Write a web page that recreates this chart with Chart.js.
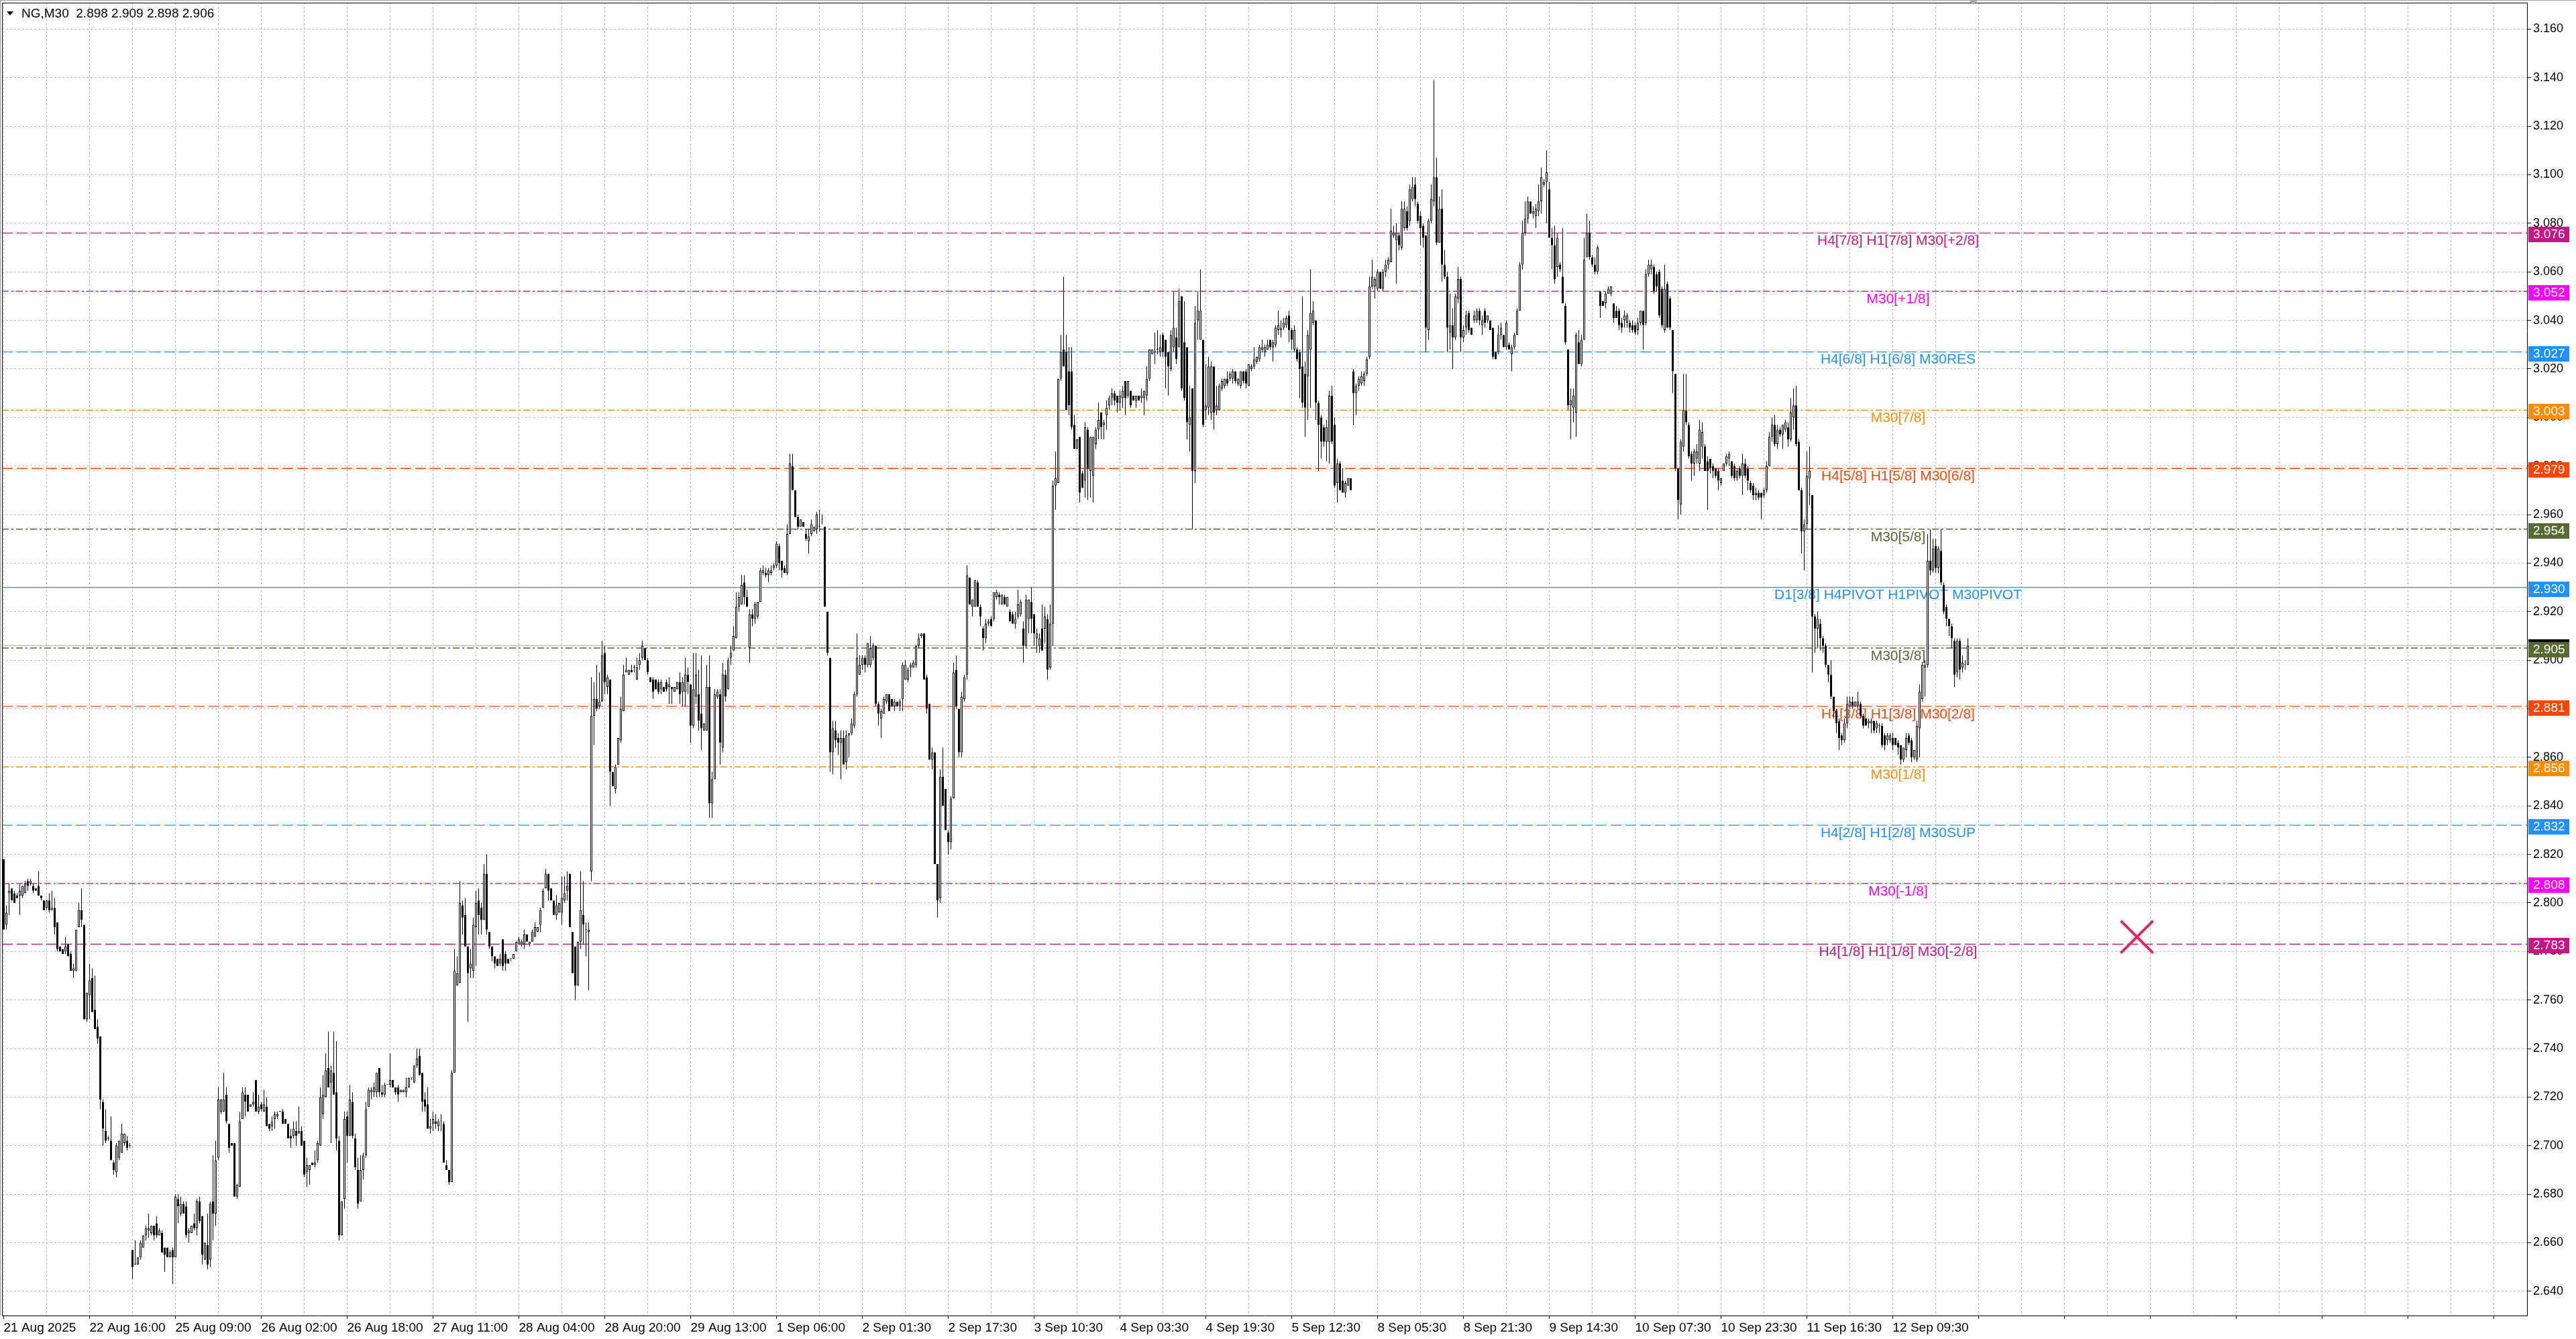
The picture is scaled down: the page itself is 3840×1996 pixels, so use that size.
<!DOCTYPE html>
<html>
<head>
<meta charset="utf-8">
<title>NG,M30</title>
<script src="https://cdn.jsdelivr.net/npm/chart.js@4.4.1/dist/chart.umd.min.js"></script>
<style>
  html, body { margin: 0; padding: 0; background: #fff; overflow: hidden; }
</style>
</head>
<body>
<canvas id="chart" width="3840" height="1996"></canvas>
<script>
(function () {
    'use strict';

    // NG M30 bars, 21 Aug 2025 -> 12 Sep 2025, each row [open, high, low, close]
    var ohlc = [
        [2.818,2.818,2.789,2.789],[2.791,2.799,2.789,2.796],[2.804,2.808,2.795,2.805],[2.806,2.806,2.801,2.801],[2.804,2.805,2.800,2.800],[2.803,2.804,2.802,2.802],
        [2.803,2.808,2.795,2.805],[2.803,2.807,2.802,2.807],[2.804,2.809,2.804,2.808],[2.809,2.810,2.805,2.807],[2.808,2.810,2.807,2.809],[2.807,2.808,2.804,2.805],
        [2.806,2.806,2.805,2.805],[2.807,2.813,2.803,2.803],[2.803,2.803,2.801,2.802],[2.801,2.801,2.797,2.797],[2.798,2.801,2.797,2.801],[2.801,2.804,2.796,2.797],
        [2.797,2.805,2.797,2.798],[2.798,2.802,2.787,2.790],[2.792,2.792,2.780,2.781],[2.782,2.782,2.780,2.780],[2.781,2.781,2.779,2.779],[2.780,2.786,2.779,2.782],
        [2.783,2.783,2.778,2.778],[2.779,2.780,2.772,2.772],[2.772,2.775,2.769,2.773],[2.772,2.789,2.772,2.789],[2.790,2.800,2.790,2.797],[2.797,2.806,2.790,2.793],
        [2.791,2.791,2.752,2.752],[2.752,2.763,2.751,2.763],[2.762,2.775,2.752,2.768],[2.769,2.773,2.755,2.755],[2.756,2.770,2.748,2.748],[2.749,2.752,2.742,2.744],
        [2.745,2.745,2.715,2.719],[2.718,2.719,2.700,2.707],[2.706,2.715,2.701,2.702],[2.703,2.704,2.702,2.703],[2.702,2.712,2.694,2.694],[2.693,2.694,2.688,2.690],
        [2.689,2.701,2.687,2.700],[2.695,2.702,2.694,2.702],[2.697,2.709,2.697,2.705],[2.701,2.705,2.700,2.705],[2.702,2.704,2.698,2.699],[2.700,2.701,2.699,2.700],
        [2.657,2.657,2.645,2.650],[2.651,2.661,2.651,2.651],[2.651,2.654,2.651,2.654],[2.654,2.661,2.653,2.660],[2.658,2.663,2.658,2.663],[2.663,2.667,2.661,2.666],
        [2.665,2.672,2.662,2.666],[2.664,2.667,2.663,2.667],[2.667,2.667,2.661,2.663],[2.668,2.671,2.662,2.663],[2.663,2.666,2.663,2.665],[2.664,2.665,2.656,2.656],
        [2.658,2.658,2.648,2.655],[2.658,2.658,2.654,2.654],[2.654,2.657,2.654,2.656],[2.657,2.658,2.643,2.654],[2.654,2.680,2.654,2.679],[2.678,2.680,2.668,2.675],
        [2.672,2.679,2.671,2.676],[2.676,2.677,2.672,2.672],[2.675,2.677,2.662,2.663],[2.664,2.666,2.660,2.665],[2.664,2.667,2.664,2.667],[2.668,2.672,2.665,2.666],
        [2.666,2.678,2.663,2.677],[2.677,2.679,2.668,2.669],[2.671,2.671,2.651,2.655],[2.653,2.660,2.653,2.660],[2.659,2.672,2.649,2.651],[2.653,2.677,2.650,2.676],
        [2.677,2.696,2.661,2.672],[2.672,2.702,2.667,2.694],[2.695,2.724,2.694,2.719],[2.714,2.719,2.713,2.719],[2.714,2.730,2.714,2.719],[2.721,2.724,2.709,2.710],
        [2.709,2.709,2.697,2.699],[2.701,2.701,2.700,2.700],[2.701,2.701,2.679,2.679],[2.679,2.684,2.678,2.684],[2.683,2.714,2.683,2.710],[2.711,2.724,2.711,2.722],
        [2.721,2.724,2.712,2.718],[2.721,2.721,2.714,2.714],[2.716,2.717,2.716,2.717],[2.717,2.722,2.716,2.718],[2.727,2.727,2.714,2.714],[2.714,2.721,2.713,2.716],
        [2.717,2.718,2.714,2.715],[2.714,2.723,2.714,2.717],[2.716,2.720,2.708,2.708],[2.709,2.709,2.706,2.707],[2.708,2.712,2.706,2.710],[2.711,2.714,2.707,2.713],
        [2.712,2.714,2.711,2.713],[2.714,2.714,2.714,2.714],[2.714,2.715,2.709,2.709],[2.711,2.711,2.709,2.709],[2.709,2.709,2.703,2.703],[2.704,2.707,2.699,2.703],
        [2.704,2.710,2.703,2.707],[2.706,2.710,2.700,2.704],[2.705,2.716,2.705,2.706],[2.706,2.708,2.700,2.700],[2.702,2.702,2.687,2.688],[2.689,2.695,2.683,2.692],
        [2.690,2.692,2.684,2.692],[2.693,2.693,2.692,2.692],[2.692,2.698,2.691,2.693],[2.694,2.702,2.693,2.701],[2.700,2.724,2.700,2.720],[2.713,2.729,2.711,2.721],
        [2.720,2.738,2.720,2.731],[2.732,2.747,2.724,2.724],[2.726,2.733,2.701,2.731],[2.730,2.747,2.721,2.721],[2.722,2.743,2.698,2.703],[2.702,2.704,2.661,2.663],
        [2.663,2.677,2.663,2.677],[2.678,2.714,2.674,2.711],[2.712,2.714,2.693,2.704],[2.704,2.725,2.704,2.719],[2.718,2.722,2.703,2.704],[2.703,2.705,2.690,2.691],
        [2.690,2.695,2.674,2.676],[2.677,2.696,2.677,2.690],[2.690,2.697,2.686,2.696],[2.696,2.718,2.695,2.715],[2.716,2.724,2.716,2.723],[2.722,2.724,2.719,2.723],
        [2.722,2.726,2.720,2.724],[2.722,2.730,2.720,2.730],[2.732,2.732,2.720,2.722],[2.722,2.725,2.720,2.721],[2.721,2.726,2.720,2.725],[2.725,2.725,2.725,2.725],
        [2.725,2.738,2.724,2.727],[2.727,2.727,2.724,2.724],[2.724,2.724,2.721,2.722],[2.724,2.725,2.718,2.721],[2.722,2.723,2.722,2.723],[2.722,2.723,2.722,2.723],
        [2.722,2.728,2.720,2.724],[2.724,2.728,2.724,2.728],[2.728,2.728,2.727,2.728],[2.726,2.733,2.726,2.733],[2.733,2.740,2.732,2.736],[2.737,2.740,2.729,2.729],
        [2.730,2.730,2.714,2.718],[2.719,2.722,2.714,2.716],[2.717,2.724,2.707,2.707],[2.707,2.711,2.705,2.708],[2.709,2.714,2.706,2.711],[2.710,2.713,2.707,2.709],
        [2.708,2.711,2.706,2.710],[2.710,2.713,2.706,2.710],[2.709,2.710,2.693,2.693],[2.692,2.694,2.690,2.690],[2.690,2.690,2.684,2.685],[2.685,2.731,2.685,2.730],
        [2.730,2.781,2.730,2.772],[2.766,2.778,2.766,2.771],[2.767,2.809,2.767,2.800],[2.799,2.801,2.787,2.794],[2.795,2.802,2.782,2.782],[2.782,2.782,2.751,2.771],
        [2.773,2.781,2.769,2.775],[2.772,2.794,2.769,2.791],[2.790,2.805,2.774,2.800],[2.801,2.806,2.787,2.795],[2.798,2.800,2.787,2.793],[2.793,2.816,2.793,2.812],
        [2.812,2.820,2.787,2.789],[2.788,2.788,2.781,2.782],[2.782,2.782,2.776,2.778],[2.778,2.778,2.773,2.775],
        [2.777,2.777,2.774,2.774],[2.775,2.779,2.774,2.777],[2.785,2.785,2.772,2.774],[2.779,2.780,2.772,2.775],[2.777,2.777,2.775,2.775],[2.777,2.777,2.776,2.777],
        [2.777,2.779,2.777,2.779],[2.780,2.784,2.780,2.784],[2.783,2.786,2.783,2.785],[2.783,2.785,2.782,2.784],[2.783,2.789,2.781,2.787],[2.787,2.787,2.784,2.784],
        [2.783,2.784,2.782,2.784],[2.784,2.789,2.784,2.788],[2.786,2.792,2.786,2.790],[2.788,2.790,2.788,2.790],[2.791,2.798,2.788,2.797],[2.798,2.806,2.798,2.805],
        [2.806,2.814,2.806,2.812],[2.812,2.812,2.801,2.805],[2.806,2.806,2.801,2.801],[2.801,2.801,2.795,2.795],[2.795,2.803,2.793,2.799],[2.796,2.800,2.796,2.800],
        [2.796,2.811,2.791,2.802],[2.801,2.811,2.800,2.804],[2.805,2.813,2.801,2.807],[2.812,2.812,2.790,2.790],[2.788,2.788,2.771,2.771],[2.782,2.782,2.760,2.766],
        [2.766,2.784,2.766,2.784],[2.784,2.813,2.781,2.797],[2.795,2.809,2.783,2.791],[2.789,2.792,2.778,2.789],[2.788,2.792,2.764,2.789],[2.813,2.893,2.809,2.877],
        [2.877,2.891,2.865,2.884],[2.884,2.898,2.879,2.880],[2.881,2.895,2.880,2.883],[2.883,2.908,2.883,2.902],[2.903,2.906,2.886,2.891],[2.889,2.894,2.886,2.893],
        [2.892,2.892,2.840,2.854],[2.854,2.854,2.848,2.848],[2.847,2.857,2.845,2.856],[2.857,2.868,2.857,2.868],[2.867,2.885,2.866,2.880],[2.879,2.898,2.879,2.894],
        [2.895,2.901,2.895,2.896],[2.894,2.896,2.894,2.896],[2.896,2.898,2.895,2.895],[2.897,2.898,2.895,2.897],[2.892,2.901,2.892,2.897],[2.898,2.903,2.896,2.900],
        [2.901,2.908,2.900,2.906],[2.905,2.905,2.900,2.900],[2.900,2.901,2.894,2.895],[2.893,2.893,2.891,2.891],[2.892,2.893,2.884,2.887],[2.892,2.892,2.888,2.888],
        [2.891,2.892,2.886,2.887],[2.888,2.892,2.886,2.891],[2.889,2.889,2.887,2.887],[2.891,2.892,2.887,2.888],[2.889,2.893,2.882,2.890],[2.889,2.889,2.882,2.888],
        [2.887,2.889,2.887,2.889],[2.888,2.891,2.888,2.891],[2.891,2.895,2.882,2.886],[2.887,2.893,2.881,2.891],[2.887,2.901,2.881,2.894],[2.894,2.897,2.886,2.891],
        [2.890,2.890,2.866,2.873],[2.873,2.903,2.872,2.888],[2.885,2.903,2.882,2.894],[2.886,2.896,2.871,2.875],[2.878,2.902,2.863,2.872],[2.871,2.874,2.871,2.874],
        [2.871,2.898,2.871,2.889],[2.889,2.902,2.835,2.841],[2.841,2.854,2.835,2.851],[2.851,2.888,2.851,2.886],[2.885,2.888,2.884,2.887],[2.886,2.888,2.857,2.866],
        [2.864,2.899,2.862,2.894],[2.894,2.896,2.883,2.885],[2.888,2.901,2.888,2.900],[2.901,2.906,2.898,2.903],[2.904,2.914,2.904,2.910],[2.909,2.928,2.909,2.922],
        [2.922,2.928,2.920,2.926],[2.923,2.935,2.923,2.931],[2.932,2.935,2.923,2.926],[2.926,2.929,2.922,2.922],[2.905,2.921,2.899,2.919],[2.919,2.921,2.914,2.917],
        [2.917,2.924,2.915,2.923],[2.918,2.924,2.917,2.924],[2.924,2.938,2.924,2.937],[2.936,2.939,2.935,2.937],[2.936,2.938,2.934,2.935],[2.935,2.938,2.932,2.937],
        [2.936,2.939,2.935,2.937],[2.938,2.940,2.937,2.939],[2.939,2.949,2.938,2.948],[2.947,2.948,2.937,2.940],[2.941,2.941,2.934,2.937],[2.938,2.939,2.936,2.936],
        [2.936,2.956,2.935,2.952],[2.952,2.985,2.952,2.981],[2.980,2.985,2.970,2.970],[2.970,2.970,2.959,2.959],[2.959,2.960,2.954,2.955],[2.955,2.958,2.955,2.958],
        [2.957,2.957,2.955,2.955],[2.952,2.954,2.949,2.950],[2.949,2.954,2.944,2.951],[2.952,2.958,2.951,2.956],[2.953,2.955,2.953,2.955],[2.954,2.961,2.952,2.960],
        [2.955,2.962,2.953,2.955],[2.958,2.960,2.956,2.958],[2.955,2.955,2.922,2.922],[2.920,2.920,2.902,2.903],[2.901,2.901,2.854,2.862],[2.862,2.875,2.853,2.872],
        [2.871,2.875,2.864,2.867],[2.868,2.870,2.861,2.866],[2.866,2.871,2.851,2.868],[2.868,2.871,2.857,2.857],[2.858,2.871,2.855,2.869],[2.869,2.870,2.860,2.870],
        [2.870,2.876,2.869,2.874],[2.873,2.887,2.872,2.886],[2.886,2.911,2.885,2.901],[2.894,2.902,2.894,2.898],[2.898,2.902,2.896,2.901],[2.901,2.902,2.895,2.898],
        [2.898,2.907,2.897,2.907],[2.898,2.910,2.897,2.905],[2.901,2.907,2.900,2.906],[2.906,2.906,2.881,2.882],[2.882,2.883,2.873,2.878],[2.876,2.880,2.868,2.879],
        [2.878,2.885,2.878,2.884],[2.883,2.886,2.882,2.886],[2.886,2.886,2.879,2.879],[2.884,2.884,2.881,2.881],[2.881,2.884,2.879,2.883],[2.883,2.883,2.881,2.881],
        [2.881,2.884,2.879,2.883],[2.884,2.899,2.879,2.898],[2.892,2.900,2.892,2.898],[2.892,2.897,2.891,2.896],[2.897,2.899,2.893,2.898],[2.897,2.900,2.897,2.899],
        [2.898,2.906,2.897,2.906],[2.906,2.911,2.905,2.909],[2.910,2.911,2.909,2.911],[2.911,2.911,2.892,2.892],[2.893,2.894,2.878,2.880],[2.882,2.882,2.859,2.859],
        [2.859,2.864,2.855,2.862],[2.862,2.862,2.816,2.816],[2.816,2.816,2.794,2.801],[2.802,2.855,2.800,2.852],[2.852,2.864,2.840,2.840],[2.847,2.847,2.830,2.830],
        [2.829,2.830,2.820,2.825],[2.825,2.844,2.822,2.843],[2.843,2.899,2.843,2.895],[2.896,2.902,2.880,2.881],[2.880,2.880,2.860,2.862],[2.862,2.887,2.860,2.885],
        [2.884,2.894,2.883,2.893],[2.894,2.939,2.892,2.935],[2.934,2.934,2.923,2.923],[2.922,2.925,2.918,2.925],[2.922,2.933,2.922,2.933],[2.932,2.933,2.922,2.922],
        [2.922,2.923,2.914,2.918],[2.913,2.914,2.904,2.909],[2.909,2.917,2.907,2.915],[2.915,2.917,2.914,2.916],[2.917,2.918,2.914,2.914],
        [2.917,2.928,2.916,2.928],[2.926,2.929,2.925,2.928],[2.927,2.928,2.923,2.926],[2.923,2.927,2.923,2.927],[2.926,2.927,2.923,2.923],[2.922,2.926,2.922,2.926],
        [2.920,2.921,2.916,2.916],[2.919,2.920,2.915,2.915],[2.915,2.920,2.913,2.917],[2.918,2.929,2.917,2.923],[2.919,2.925,2.918,2.924],[2.913,2.916,2.899,2.906],
        [2.906,2.927,2.905,2.925],[2.917,2.925,2.911,2.925],[2.924,2.930,2.911,2.917],[2.919,2.919,2.906,2.911],[2.909,2.913,2.903,2.911],[2.906,2.911,2.903,2.909],
        [2.913,2.923,2.904,2.904],[2.913,2.922,2.907,2.918],[2.917,2.919,2.892,2.896],[2.897,2.923,2.896,2.915],[2.915,2.974,2.906,2.972],[2.972,2.986,2.962,2.975],
        [2.973,3.016,2.973,3.016],[3.016,3.034,3.015,3.027],[3.028,3.058,3.021,3.021],[3.027,3.034,3.003,3.003],[3.019,3.029,3.001,3.005],[3.019,3.029,2.995,2.996],
        [2.997,3.001,2.987,2.987],[2.987,2.991,2.987,2.991],[2.992,2.992,2.965,2.969],[2.977,2.978,2.971,2.971],[2.974,2.998,2.967,2.996],[2.995,2.996,2.966,2.979],
        [2.978,2.992,2.967,2.992],[2.976,2.992,2.965,2.992],[2.989,2.996,2.987,2.995],[2.995,3.006,2.991,2.999],[3.002,3.002,2.991,2.996],[2.997,2.999,2.991,2.998],
        [3.001,3.007,2.995,3.004],[3.005,3.009,3.003,3.008],[3.008,3.012,3.005,3.010],[3.010,3.011,3.005,3.007],[3.009,3.009,3.002,3.006],[3.006,3.011,3.003,3.009],
        [3.008,3.013,3.004,3.011],[3.015,3.015,3.001,3.008],[3.009,3.015,3.008,3.015],[3.011,3.011,3.004,3.005],[3.009,3.009,3.007,3.007],[3.007,3.009,3.004,3.009],
        [3.009,3.009,3.007,3.007],[3.008,3.012,3.006,3.009],[3.008,3.011,3.001,3.011],[3.009,3.021,3.007,3.016],[3.016,3.028,3.015,3.028],[3.026,3.028,3.026,3.028],
        [3.027,3.035,3.022,3.027],[3.028,3.036,3.026,3.028],[3.027,3.034,3.025,3.029],[3.034,3.035,3.025,3.027],[3.032,3.032,3.012,3.025],[3.027,3.027,3.009,3.021],
        [3.020,3.036,3.019,3.034],[3.029,3.052,3.027,3.037],[3.033,3.037,3.022,3.024],[3.029,3.053,3.029,3.048],[3.050,3.050,3.011,3.012],[3.031,3.048,3.007,3.008],
        [3.029,3.029,2.991,2.998],[2.997,3.013,2.986,3.000],[3.012,3.012,2.954,2.978],[2.978,3.046,2.973,3.039],[3.040,3.052,3.032,3.044],[3.032,3.061,3.032,3.044],
        [3.032,3.032,2.996,2.997],[3.003,3.022,2.999,3.005],[3.004,3.025,3.001,3.021],[3.002,3.023,2.999,3.021],[3.021,3.021,2.995,3.002],[3.003,3.013,3.001,3.005],
        [3.003,3.014,3.003,3.013],[3.012,3.016,3.011,3.015],[3.013,3.016,3.012,3.016],[3.016,3.019,3.013,3.014],[3.016,3.019,3.015,3.018],[3.016,3.020,3.014,3.019],
        [3.019,3.019,3.014,3.015],[3.014,3.016,3.013,3.016],[3.013,3.019,3.012,3.019],[3.019,3.019,3.014,3.015],[3.019,3.020,3.012,3.014],[3.013,3.022,3.013,3.022],
        [3.020,3.022,3.019,3.021],[3.021,3.029,3.020,3.024],[3.023,3.025,3.022,3.025],[3.024,3.030,3.023,3.029],[3.028,3.032,3.027,3.029],[3.027,3.030,3.025,3.029],
        [3.028,3.032,3.028,3.030],[3.032,3.032,3.028,3.029],[3.029,3.032,3.023,3.031],[3.030,3.038,3.029,3.037],[3.036,3.044,3.034,3.038],[3.036,3.040,3.033,3.037],
        [3.037,3.041,3.036,3.039],[3.038,3.042,3.037,3.041],[3.042,3.044,3.031,3.036],[3.036,3.037,3.028,3.032],[3.028,3.038,3.027,3.036],[3.028,3.029,3.023,3.024],
        [3.027,3.028,3.008,3.020],[3.021,3.050,3.004,3.006],[3.018,3.023,2.992,3.004],[3.017,3.036,2.999,3.034],[3.028,3.061,3.004,3.043],[3.039,3.048,3.038,3.044],
        [3.040,3.040,2.999,3.006],[3.006,3.007,2.978,2.997],[3.000,3.001,2.983,2.990],[2.996,2.997,2.988,2.990],[2.990,2.999,2.982,2.996],[2.990,3.011,2.981,3.009],
        [3.009,3.013,2.989,2.990],[2.997,3.000,2.971,2.972],[2.973,2.983,2.965,2.981],[2.981,2.982,2.970,2.970],[2.974,2.979,2.969,2.969],[2.969,2.974,2.967,2.973],
        [2.972,2.975,2.972,2.975],[2.975,2.975,2.970,2.970],
        [3.019,3.020,2.997,3.010],[3.010,3.014,3.001,3.013],[3.013,3.017,3.011,3.016],[3.014,3.019,3.013,3.017],[3.015,3.019,3.013,3.018],[3.018,3.025,3.017,3.024],
        [3.025,3.058,3.024,3.054],[3.054,3.065,3.053,3.058],[3.054,3.058,3.049,3.057],[3.053,3.061,3.052,3.060],[3.060,3.060,3.053,3.053],[3.053,3.061,3.052,3.060],
        [3.060,3.065,3.058,3.063],[3.063,3.066,3.061,3.065],[3.064,3.086,3.064,3.077],[3.075,3.079,3.074,3.076],[3.073,3.080,3.055,3.076],[3.075,3.076,3.069,3.071],
        [3.070,3.089,3.069,3.086],[3.078,3.089,3.077,3.086],[3.085,3.087,3.077,3.078],[3.081,3.096,3.079,3.094],[3.090,3.099,3.089,3.095],[3.096,3.099,3.087,3.090],
        [3.088,3.089,3.080,3.081],[3.083,3.085,3.071,3.078],[3.079,3.080,3.070,3.074],[3.075,3.075,3.027,3.037],[3.036,3.082,3.032,3.081],[3.081,3.096,3.080,3.090],
        [3.089,3.139,3.087,3.099],[3.099,3.107,3.071,3.072],[3.072,3.091,3.072,3.086],[3.086,3.094,3.056,3.063],[3.063,3.069,3.057,3.058],[3.058,3.060,3.027,3.037],
        [3.035,3.051,3.028,3.038],[3.038,3.045,3.020,3.033],[3.033,3.051,3.032,3.050],[3.049,3.062,3.047,3.057],[3.057,3.058,3.027,3.033],[3.033,3.038,3.031,3.036],
        [3.037,3.044,3.034,3.042],[3.043,3.044,3.035,3.036],[3.037,3.037,3.034,3.034],[3.040,3.044,3.039,3.042],[3.040,3.045,3.039,3.044],[3.044,3.045,3.038,3.040],
        [3.038,3.042,3.034,3.040],[3.044,3.045,3.037,3.039],[3.040,3.042,3.039,3.042],[3.040,3.040,3.036,3.036],[3.037,3.037,3.024,3.025],
        [3.027,3.027,3.024,3.024],[3.027,3.038,3.026,3.034],[3.034,3.039,3.032,3.037],[3.034,3.034,3.029,3.029],[3.029,3.040,3.028,3.039],[3.030,3.031,3.028,3.028],
        [3.026,3.030,3.019,3.029],[3.029,3.035,3.028,3.034],[3.034,3.045,3.034,3.044],[3.044,3.064,3.044,3.063],[3.063,3.081,3.061,3.076],[3.076,3.089,3.075,3.082],
        [3.082,3.091,3.080,3.089],[3.089,3.089,3.084,3.084],[3.084,3.087,3.082,3.085],[3.083,3.088,3.078,3.086],[3.085,3.096,3.083,3.089],[3.089,3.103,3.084,3.099],
        [3.096,3.098,3.095,3.097],[3.097,3.110,3.080,3.101],[3.094,3.097,3.074,3.074],[3.074,3.078,3.061,3.071],[3.071,3.079,3.055,3.057],[3.062,3.076,3.058,3.074],
        [3.063,3.064,3.060,3.061],[3.058,3.078,3.047,3.047],[3.046,3.047,3.030,3.031],[3.028,3.028,3.003,3.005],[3.005,3.012,2.991,3.007],[3.004,3.012,2.998,3.009],
        [3.002,3.035,2.992,3.034],[3.031,3.036,3.022,3.022],[3.022,3.034,3.021,3.032],[3.032,3.074,3.032,3.065],[3.066,3.084,3.066,3.076],[3.076,3.081,3.065,3.066],
        [3.066,3.067,3.062,3.063],[3.063,3.066,3.059,3.060],[3.060,3.071,3.059,3.070],[3.052,3.052,3.041,3.046],[3.048,3.048,3.046,3.046],[3.047,3.052,3.045,3.051],
        [3.051,3.054,3.051,3.053],[3.051,3.054,3.050,3.054],[3.047,3.047,3.039,3.041],[3.044,3.046,3.041,3.041],[3.044,3.045,3.036,3.038],[3.039,3.041,3.035,3.037],
        [3.040,3.044,3.037,3.042],[3.039,3.043,3.037,3.042],[3.039,3.040,3.035,3.037],[3.038,3.040,3.035,3.036],[3.038,3.039,3.034,3.035],[3.036,3.041,3.034,3.039],
        [3.039,3.044,3.038,3.044],[3.044,3.044,3.028,3.038],[3.039,3.061,3.038,3.059],[3.059,3.065,3.058,3.063],[3.061,3.065,3.059,3.063],[3.062,3.063,3.051,3.052],
        [3.059,3.060,3.052,3.054],[3.060,3.061,3.041,3.042],[3.053,3.054,3.037,3.038],[3.036,3.063,3.035,3.053],[3.055,3.056,3.037,3.037],[3.049,3.050,3.036,3.037],
        [3.036,3.036,3.010,3.019],[3.018,3.018,2.978,2.979],[2.979,2.979,2.958,2.966],[2.964,2.991,2.960,2.990],[2.988,3.018,2.986,3.003],[3.003,3.018,2.997,2.998],
        [2.997,2.998,2.983,2.984],[2.985,2.986,2.974,2.981],[2.981,2.987,2.976,2.986],[2.983,2.989,2.981,2.986],[2.981,2.999,2.978,2.995],[2.988,2.998,2.983,2.994],
        [2.988,2.989,2.978,2.978],[2.982,2.984,2.962,2.978],[2.983,2.983,2.977,2.979],[2.980,2.981,2.975,2.978],[2.979,2.979,2.975,2.976],[2.978,2.979,2.970,2.974],
        [2.973,2.975,2.972,2.975],[2.978,2.981,2.978,2.981],[2.981,2.985,2.980,2.984],[2.983,2.986,2.980,2.985],[2.982,2.982,2.975,2.976],[2.980,2.981,2.974,2.975],
        [2.975,2.979,2.974,2.978],[2.979,2.980,2.975,2.976],[2.976,2.985,2.968,2.981],[2.981,2.983,2.975,2.976],[2.979,2.980,2.970,2.974],[2.973,2.974,2.969,2.970],
        [2.972,2.973,2.966,2.968],[2.968,2.971,2.966,2.969],[2.969,2.970,2.966,2.967],[2.969,2.969,2.958,2.967],[2.968,2.971,2.967,2.970],[2.970,2.982,2.969,2.980],
        [2.980,2.994,2.980,2.992],[2.992,3.000,2.990,2.997],[2.997,3.001,2.988,2.989],[2.989,2.997,2.987,2.995],[2.995,2.996,2.992,2.993],[2.993,2.997,2.987,2.997],
        [2.995,2.999,2.994,2.998],[2.996,2.998,2.988,2.991],[2.991,3.008,2.990,3.002],[3.000,3.012,2.995,3.005],[3.005,3.013,2.988,2.989],[2.990,2.991,2.970,2.970],
        [2.970,2.971,2.944,2.953],[2.953,2.958,2.937,2.956],[2.956,2.986,2.954,2.976],[2.975,2.988,2.964,2.978],[2.968,2.968,2.895,2.918],[2.918,2.919,2.903,2.913],
        [2.913,2.920,2.905,2.917],[2.915,2.917,2.904,2.909],[2.909,2.910,2.903,2.906],[2.906,2.907,2.897,2.898],[2.898,2.898,2.891,2.894],[2.894,2.900,2.884,2.885],
        [2.885,2.885,2.876,2.879],[2.879,2.880,2.870,2.874],[2.875,2.876,2.863,2.868],[2.869,2.870,2.865,2.867],[2.867,2.876,2.866,2.874],[2.874,2.885,2.872,2.882],
        [2.881,2.885,2.880,2.883],[2.883,2.885,2.880,2.881],[2.881,2.883,2.881,2.883],[2.881,2.887,2.880,2.883],[2.882,2.883,2.876,2.877],[2.877,2.878,2.872,2.873],
        [2.876,2.876,2.873,2.873],[2.874,2.876,2.872,2.875],[2.874,2.876,2.870,2.875],[2.875,2.875,2.870,2.871],[2.872,2.875,2.870,2.874],[2.873,2.874,2.870,2.873],
        [2.873,2.874,2.864,2.865],[2.869,2.870,2.863,2.865],[2.867,2.870,2.865,2.869],[2.867,2.870,2.866,2.869],[2.868,2.870,2.863,2.865],[2.868,2.868,2.865,2.865],
        [2.866,2.867,2.861,2.864],[2.865,2.865,2.857,2.859],[2.859,2.864,2.858,2.864],[2.863,2.870,2.860,2.868],[2.869,2.870,2.865,2.866],[2.867,2.868,2.858,2.860],
        [2.860,2.863,2.859,2.863],[2.859,2.875,2.858,2.873],[2.872,2.890,2.860,2.887],[2.884,2.899,2.883,2.898],[2.897,2.900,2.885,2.898],[2.898,2.952,2.897,2.941],
        [2.941,2.954,2.935,2.937],[2.937,2.950,2.936,2.946],[2.947,2.950,2.936,2.938],[2.938,2.947,2.936,2.946],[2.945,2.954,2.931,2.932],[2.931,2.932,2.919,2.920],
        [2.922,2.923,2.914,2.917],[2.917,2.917,2.910,2.914],[2.914,2.915,2.905,2.909],[2.908,2.909,2.889,2.894],[2.895,2.909,2.893,2.908],[2.908,2.909,2.892,2.896],
        [2.897,2.902,2.895,2.899],[2.898,2.900,2.896,2.898],[2.898,2.909,2.898,2.906]
    ];

    // one label every 32 bars, starting at bar 0
    var xTickLabels = [
        '21 Aug 2025', '22 Aug 16:00', '25 Aug 09:00', '26 Aug 02:00', '26 Aug 18:00', '27 Aug 11:00',
        '28 Aug 04:00', '28 Aug 20:00', '29 Aug 13:00', '1 Sep 06:00', '2 Sep 01:30', '2 Sep 17:30',
        '3 Sep 10:30', '4 Sep 03:30', '4 Sep 19:30', '5 Sep 12:30', '8 Sep 05:30', '8 Sep 21:30',
        '9 Sep 14:30', '10 Sep 07:30', '10 Sep 23:30', '11 Sep 16:30', '12 Sep 09:30'
    ];
    var yTicks = [
        2.64, 2.66, 2.68, 2.70, 2.72, 2.74, 2.76, 2.78, 2.80, 2.82, 2.84, 2.86, 2.88, 2.90,
        2.92, 2.94, 2.96, 2.98, 3.00, 3.02, 3.04, 3.06, 3.08, 3.10, 3.12, 3.14, 3.16
    ];

    var levelPrices = [3.076, 3.052, 3.027, 3.003, 2.979, 2.954, 2.930, 2.905, 2.881, 2.856, 2.832, 2.808, 2.783];
    var levelNames = [
        'H4[7/8] H1[7/8] M30[+2/8]', 'M30[+1/8]', 'H4[6/8] H1[6/8] M30RES', 'M30[7/8]',
        'H4[5/8] H1[5/8] M30[6/8]', 'M30[5/8]', 'D1[3/8] H4PIVOT H1PIVOT M30PIVOT', 'M30[3/8]',
        'H4[3/8] H1[3/8] M30[2/8]', 'M30[1/8]', 'H4[2/8] H1[2/8] M30SUP', 'M30[-1/8]', 'H4[1/8] H1[1/8] M30[-2/8]'
    ];
    var levelColors = ['#C71585', '#FF00FF', '#1E90FF', '#FF8C00', '#FF4500', '#556B2F', '#1E90FF',
        '#556B2F', '#FF4500', '#FF8C00', '#1E90FF', '#FF00FF', '#C71585'];
    var levelStyles = ['dash', 'dashdot', 'dash', 'dashdot', 'dash', 'dashdot', 'solid',
        'dashdot', 'dash', 'dashdot', 'dash', 'dashdot', 'dash'];

    var bidPrice = 2.906;
    var markBars = [795];
    var markPrices = [2.786];
    var headerText = 'NG,M30  2.898 2.909 2.898 2.906';

    var X_MIN = -0.625, X_MAX = 940.375;
    var Y_MIN = 2.6300, Y_MAX = 3.1709;
    var LABEL_BAR = 706;
    var FONT = '"Liberation Sans", Arial, sans-serif';

    var dashes = { dash: [16, 6], dashdot: [10, 4, 3, 4], solid: [] };

    var wickData = [], bodyData = [], bodyFill = [];
    for (var i = 0; i < ohlc.length; i++) {
        var c = ohlc[i];
        wickData.push({ x: i, y: [c[2], c[1]] });
        bodyData.push({ x: i, y: [c[0], c[3]] });
        bodyFill.push(c[3] >= c[0] ? '#FFFFFF' : '#000000');
    }

    var datasets = [
        {
            type: 'bar', data: wickData, backgroundColor: '#000000', borderWidth: 0,
            barThickness: 1, grouped: false, inflateAmount: 0, order: 2
        },
        {
            type: 'bar', data: bodyData, backgroundColor: bodyFill, borderColor: '#000000',
            borderWidth: 1, borderSkipped: false, barThickness: 3, minBarLength: 1,
            grouped: false, inflateAmount: 0, order: 1
        },
        {
            type: 'line', data: [{ x: X_MIN, y: bidPrice }, { x: X_MAX, y: bidPrice }],
            borderColor: '#B8B8B8', borderWidth: 1.3, pointRadius: 0, fill: false, order: 6
        },
        {
            type: 'scatter', data: [{ x: markBars[0], y: markPrices[0] }],
            pointStyle: 'crossRot', pointRadius: 34, borderColor: '#E2265A',
            backgroundColor: 'rgba(0,0,0,0)', borderWidth: 4, order: 0
        }
    ];
    for (var k = 0; k < levelPrices.length; k++) {
        datasets.push({
            type: 'line',
            data: [{ x: X_MIN, y: levelPrices[k] }, { x: X_MAX, y: levelPrices[k] }],
            borderColor: levelColors[k], borderWidth: 1.4, borderDash: dashes[levelStyles[k]],
            pointRadius: 0, fill: false, order: 5
        });
    }

    var mtOverlay = {
        id: 'mtOverlay',
        beforeDatasetsDraw: function (chart) {
            var ctx = chart.ctx;
            var xs = chart.scales.x, ys = chart.scales.y;
            var cx = xs.getPixelForValue(LABEL_BAR);
            ctx.save();
            ctx.font = '21px ' + FONT;
            ctx.textAlign = 'center';
            ctx.textBaseline = 'middle';
            for (var n = 0; n < levelPrices.length; n++) {
                ctx.fillStyle = levelColors[n];
                ctx.fillText(levelNames[n], cx, ys.getPixelForValue(levelPrices[n]) + 12);
            }
            ctx.restore();
        },
        afterDraw: function (chart) {
            var ctx = chart.ctx, area = chart.chartArea;
            var ys = chart.scales.y, xs = chart.scales.x;
            ctx.save();

            // window edge and chart frame
            ctx.strokeStyle = '#A0A0A0';
            ctx.lineWidth = 1;
            ctx.beginPath();
            ctx.moveTo(0, 0.5); ctx.lineTo(chart.width, 0.5);
            ctx.moveTo(0.5, 0); ctx.lineTo(0.5, area.bottom);
            ctx.stroke();
            ctx.strokeStyle = '#000000';
            ctx.beginPath();
            ctx.moveTo(area.left + 0.5, area.bottom);
            ctx.lineTo(area.left + 0.5, area.top + 0.5);
            ctx.lineTo(area.right, area.top + 0.5);
            ctx.stroke();

            // chart shift marker
            var sx = xs.getPixelForValue(ohlc.length + 1);
            ctx.fillStyle = '#A8A8A8';
            ctx.beginPath();
            ctx.moveTo(sx - 7, 0); ctx.lineTo(sx + 7, 0); ctx.lineTo(sx, 7);
            ctx.closePath(); ctx.fill();

            // header
            ctx.fillStyle = '#000000';
            ctx.beginPath();
            ctx.moveTo(10, 17); ctx.lineTo(20, 17); ctx.lineTo(15, 23);
            ctx.closePath(); ctx.fill();
            ctx.font = '19px ' + FONT;
            ctx.textAlign = 'left';
            ctx.textBaseline = 'middle';
            ctx.fillText(headerText, 32, 21);

            // price boxes on the right scale
            ctx.font = '19px ' + FONT;
            var drawBox = function (price, color) {
                var y = Math.round(ys.getPixelForValue(price));
                ctx.fillStyle = color;
                ctx.fillRect(area.right + 2, y - 9, 61, 23);
                ctx.fillStyle = '#FFFFFF';
                ctx.fillText(price.toFixed(3), area.right + 9, y + 3);
            };
            drawBox(bidPrice, '#000000');
            for (var n = 0; n < levelPrices.length; n++) {
                drawBox(levelPrices[n], levelColors[n]);
            }
            ctx.restore();
        }
    };

    var ctx = document.getElementById('chart').getContext('2d');
    window.ngChart = new Chart(ctx, {
        type: 'bar',
        data: { datasets: datasets },
        plugins: [mtOverlay],
        options: {
            responsive: false,
            animation: false,
            devicePixelRatio: 1,
            events: [],
            layout: { autoPadding: false, padding: { left: 3, top: 4, right: 0, bottom: 0 } },
            plugins: { legend: { display: false }, tooltip: { enabled: false } },
            scales: {
                x: {
                    type: 'linear', min: X_MIN, max: X_MAX, offset: false,
                    afterBuildTicks: function (scale) {
                        var t = [];
                        for (var b = 0; b <= X_MAX; b += 16) t.push({ value: b });
                        scale.ticks = t;
                    },
                    afterFit: function (scale) {
                        scale.height = 35;
                        scale.paddingLeft = 0;
                        scale.paddingRight = 0;
                    },
                    ticks: {
                        autoSkip: false, maxRotation: 0, minRotation: 0, align: 'start', padding: 2,
                        color: '#000000', font: { family: FONT, size: 19 },
                        callback: function (v) {
                            return v % 32 === 0 ? (xTickLabels[v / 32] || '') : '';
                        }
                    },
                    grid: {
                        color: '#BEBEBE', offset: false, tickLength: 5, tickBorderDash: [],
                        tickColor: function (c) {
                            return c.tick && c.tick.value % 32 === 0 ? '#000000' : 'rgba(0,0,0,0)';
                        }
                    },
                    border: { display: true, color: '#000000', width: 1, dash: [3, 3] }
                },
                y: {
                    type: 'linear', position: 'right', min: Y_MIN, max: Y_MAX,
                    afterBuildTicks: function (scale) {
                        scale.ticks = yTicks.map(function (v) { return { value: v }; });
                    },
                    afterFit: function (scale) {
                        scale.width = 73;
                        scale.paddingTop = 0;
                        scale.paddingBottom = 0;
                    },
                    ticks: {
                        autoSkip: false, padding: 3, color: '#000000', font: { family: FONT, size: 18 },
                        callback: function (v) { return Number(v).toFixed(3); }
                    },
                    grid: { color: '#BEBEBE', tickColor: '#000000', tickLength: 6, tickBorderDash: [] },
                    border: { display: true, color: '#000000', width: 1, dash: [3, 3] }
                }
            }
        }
    });
})();
</script>
</body>
</html>
